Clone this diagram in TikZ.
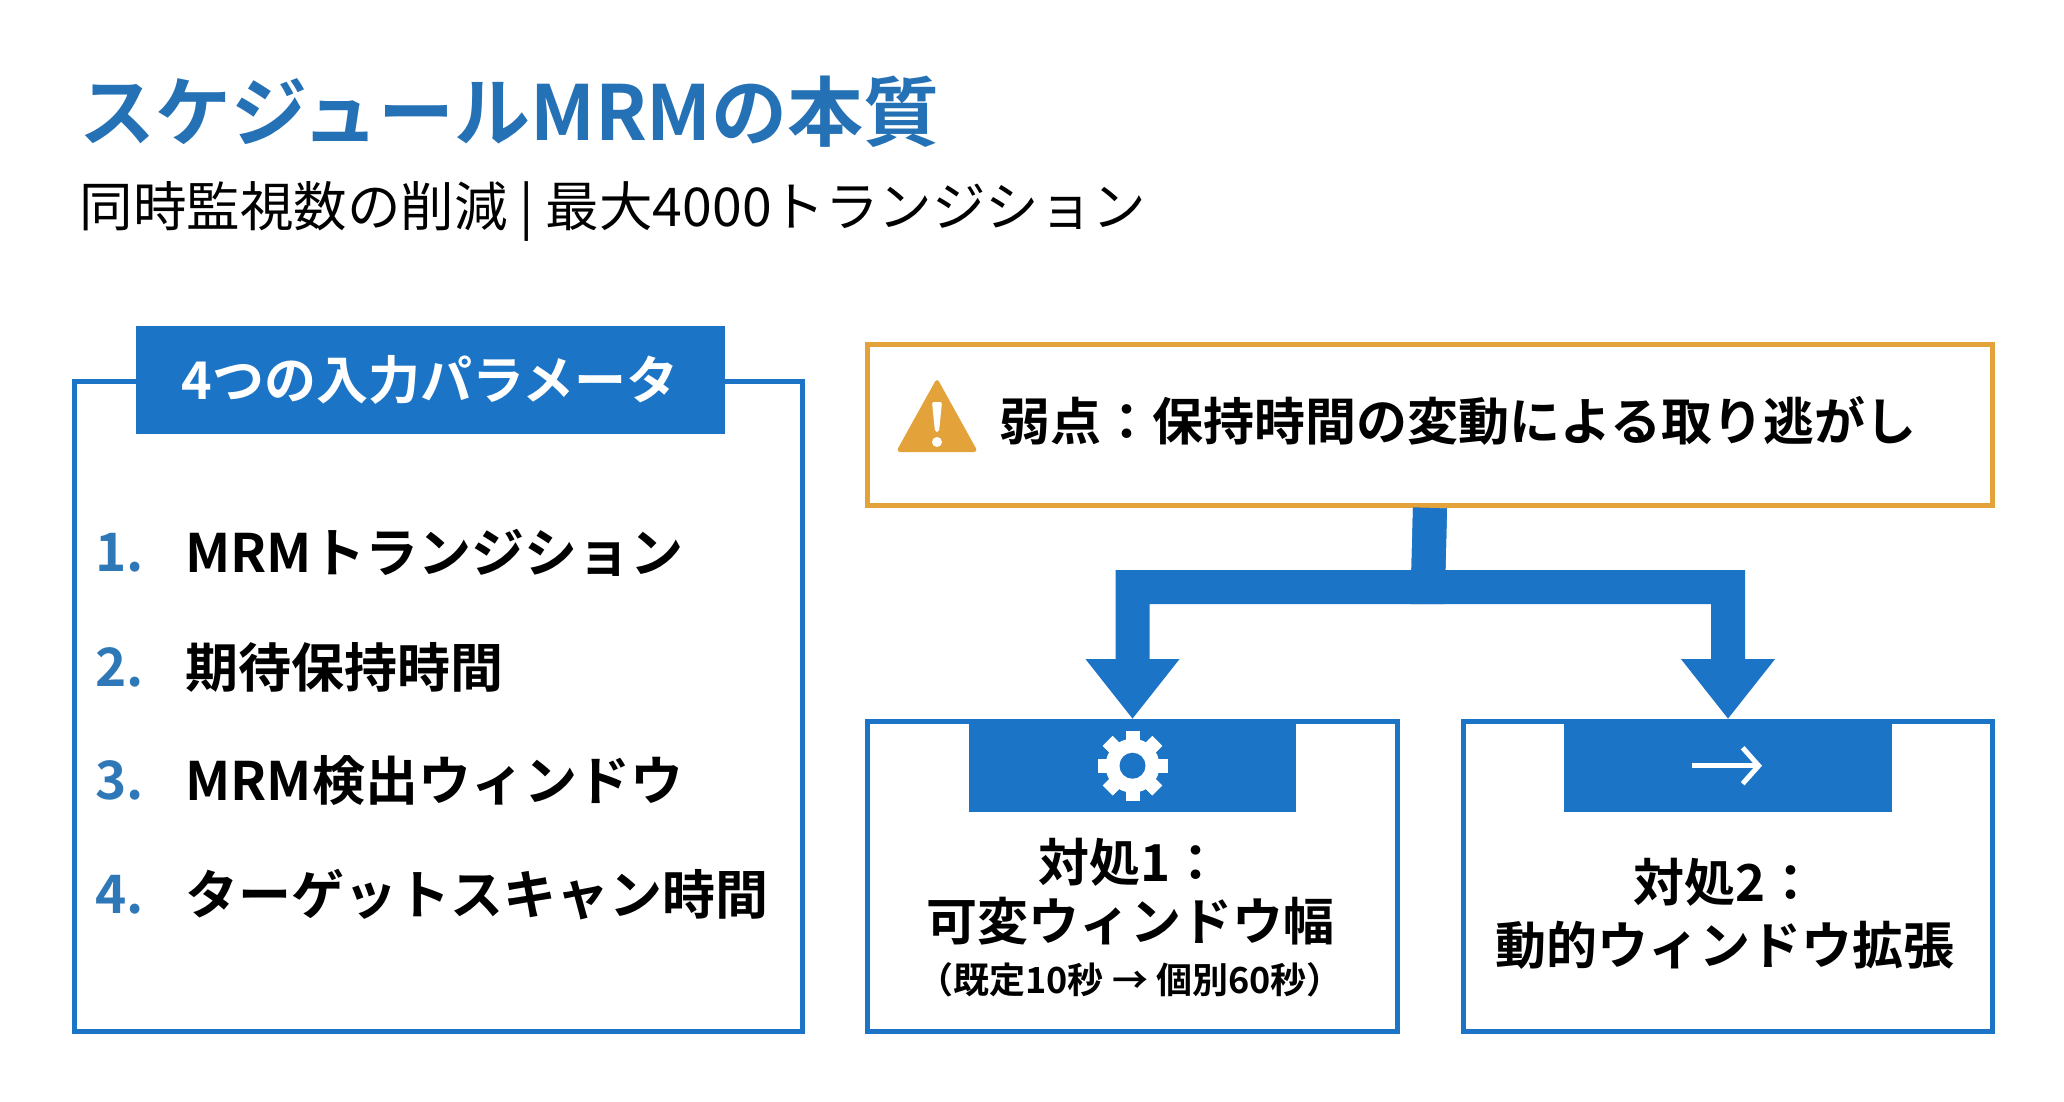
\documentclass[tikz,border=0pt]{standalone}
\usepackage{fontspec}
\setmainfont{Noto Sans CJK JP}
\newfontfamily\jpbold{Noto Sans CJK JP Bold}
\usetikzlibrary{arrows.meta,positioning}
\definecolor{mainblue}{HTML}{1B74C5}
\definecolor{titleblue}{HTML}{2471B5}
\definecolor{warnorange}{HTML}{E3A23A}
\definecolor{numblue}{HTML}{2F78B8}
\tikzset{
  panel/.style={draw=mainblue, line width=5pt, fill=white, minimum width=#1, minimum height=310pt, inner sep=0pt},
  tab/.style={fill=mainblue, inner sep=0pt},
  item/.style={anchor=west, font=\jpbold\fontsize{53}{60}\selectfont},
  num/.style={anchor=west, text=numblue, font=\jpbold\fontsize{53}{60}\selectfont},
  fixtxt/.style={font=\jpbold\fontsize{51}{60}\selectfont},
  conn/.style={draw=mainblue, line width=34pt, line join=miter, -{Triangle[length=60pt,width=90pt]}}
}
\begin{document}
\begin{tikzpicture}[x=1pt,y=-1pt]
 \useasboundingbox (0,0) rectangle (2064,1101);
 % titles
 \node[anchor=west, text=titleblue, font=\jpbold\fontsize{76}{80}\selectfont] (title) at (76,112) {スケジュールMRMの本質};
 \node[anchor=west, font=\fontsize{53.5}{58}\selectfont] (subtitle) at (76,211) {同時監視数の削減 | 最大4000トランジション};
 %
 % left panel
 \node[panel=728pt, minimum height=650pt, anchor=north west] (params) at (72,379) {};
 \node[tab, minimum width=589pt, minimum height=108pt, text=white, font=\jpbold\fontsize{52}{58}\selectfont] (paramtab) at (430,380) {4つの入力パラメータ};
 \node[num] (n1) at (92,553) {1.};
 \node[item] (i1) at (182,553) {MRMトランジション};
 \node[num] (n2) at (92,667) {2.};
 \node[item] (i2) at (182,667) {期待保持時間};
 \node[num] (n3) at (92,780) {3.};
 \node[item] (i3) at (182,780) {MRM検出ウィンドウ};
 \node[num] (n4) at (92,895) {4.};
 \node[item] (i4) at (182,895) {ターゲットスキャン時間};
 %
 % weak point
 \node[draw=warnorange, line width=5pt, fill=white, minimum width=1125pt, minimum height=161pt, anchor=north west] (warn) at (865,342) {};
 \fill[warnorange, rounded corners=4pt] (937,378) -- (978,452) -- (896,452) -- cycle;
 \fill[white, rounded corners=2pt] (932,402) -- (942,402) -- (939,432) -- (935,432) -- cycle;
 \fill[white] (937,442) circle (5);
 \node[anchor=west, font=\jpbold\fontsize{51}{56}\selectfont] (warntxt) at (996,421) {弱点：保持時間の変動による取り逃がし};
 %
 % fixes
 \node[panel=530pt, anchor=north west] (fix1) at (865,719) {};
 \node[panel=529pt, anchor=north west] (fix2) at (1461,719) {};
 \node[tab, minimum width=327pt, minimum height=93pt, anchor=north] (tab1) at (fix1.north) {};
 \node[tab, minimum width=328pt, minimum height=93pt, anchor=north] (tab2) at (fix2.north) {};
 \begin{scope}[shift={(tab1.center)}]
  \foreach \a in {0,45,...,315}
   \fill[white, rotate=\a] (-7,-35) rectangle (7,35);
  \fill[white] (0,0) circle (27);
  \fill[mainblue] (0,0) circle (13);
 \end{scope}
 \draw[white, line width=5pt, -{Straight Barb[length=16pt,width=36pt]}] ([xshift=-36pt]tab2.center) -- ([xshift=34pt]tab2.center);
 \node[fixtxt] (f1a) at (1130,862) {対処1：};
 \node[fixtxt] (f1b) at (1130,921) {可変ウィンドウ幅};
 \node[font=\jpbold\fontsize{36}{42}\selectfont] (f1c) at (1130,980) {（既定10秒 → 個別60秒）};
 \node[fixtxt] (f2a) at (1725,882) {対処2：};
 \node[fixtxt] (f2b) at (1725,945) {動的ウィンドウ拡張};
 %
 % connectors
 \coordinate (split) at (1428,587);
 \draw[conn] (warn.south) -- (split) -| (fix1.north);
 \draw[conn] (warn.south) -- (split) -| (fix2.north);
\end{tikzpicture}
\end{document}
